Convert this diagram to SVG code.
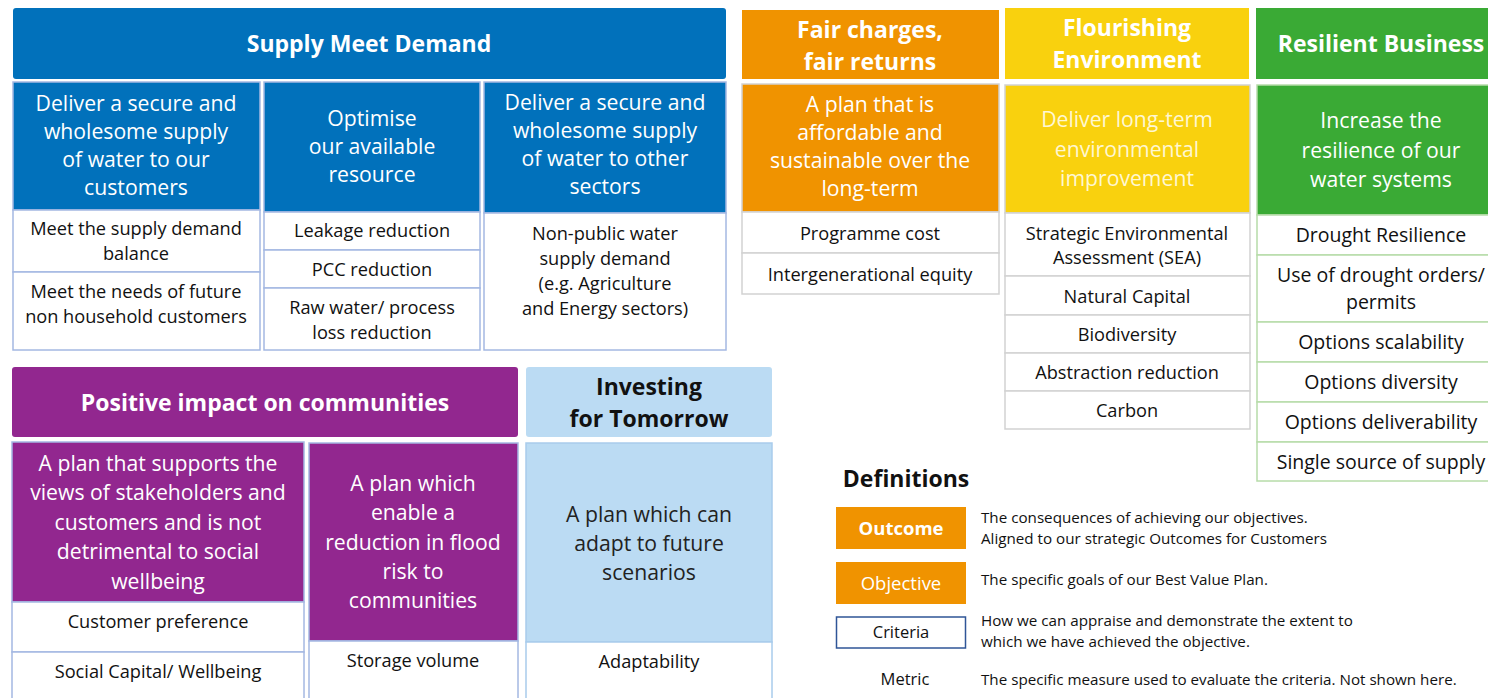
<svg xmlns="http://www.w3.org/2000/svg" width="1488" height="698" viewBox="0 0 1488 698">
<style>
text{font-family:"Open Sans","Noto Sans",sans-serif;text-anchor:middle}
.h{font-weight:bold;font-size:23px;fill:#fff}
.hd{font-weight:bold;font-size:23px;fill:#111}
.o{font-size:21.2px;fill:#fff}
.oy{font-size:21.2px;fill:#FFF7D2}
.od{font-size:21.2px;fill:#222}
.c{font-size:18.2px;fill:#111}
.cr{font-size:19.5px;fill:#111}
.d{font-size:15.2px;fill:#111;text-anchor:start}
.cb{fill:#fff;stroke:#A4B8E2;stroke-width:1.5}
.cg{fill:#fff;stroke:#D2D2D2;stroke-width:1.5}
.cgr{fill:#fff;stroke:#B7DCA9;stroke-width:1.5}
.cl{fill:#fff;stroke:#A9CCEC;stroke-width:1.5}
</style>
<g id="supply-meet-demand">
<rect x="13" y="8" width="713" height="71" rx="3" fill="#0171BB"/>
<text class="h" x="369" y="52">Supply Meet Demand</text>
<rect x="13" y="82" width="247" height="128" fill="#0171BB" stroke="#A4B8E2" stroke-width="1.5"/>
<text class="o" x="136" y="111">Deliver a secure and</text>
<text class="o" x="136" y="139">wholesome supply</text>
<text class="o" x="136" y="167">of water to our</text>
<text class="o" x="136" y="195">customers</text>
<rect class="cb" x="13" y="210" width="247" height="62"/>
<text class="c" x="136" y="235">Meet the supply demand</text>
<text class="c" x="136" y="260">balance</text>
<rect class="cb" x="13" y="272" width="247" height="78"/>
<text class="c" x="136" y="298">Meet the needs of future</text>
<text class="c" x="136" y="323">non household customers</text>
<rect x="264" y="82" width="216" height="130" fill="#0171BB" stroke="#A4B8E2" stroke-width="1.5"/>
<text class="o" x="372" y="126">Optimise</text>
<text class="o" x="372" y="154">our available</text>
<text class="o" x="372" y="182">resource</text>
<rect class="cb" x="264" y="212" width="216" height="38"/>
<text class="c" x="372" y="237">Leakage reduction</text>
<rect class="cb" x="264" y="250" width="216" height="38"/>
<text class="c" x="372" y="276">PCC reduction</text>
<rect class="cb" x="264" y="288" width="216" height="62"/>
<text class="c" x="372" y="314">Raw water/ process</text>
<text class="c" x="372" y="339">loss reduction</text>
<rect x="484" y="82" width="242" height="131" fill="#0171BB" stroke="#A4B8E2" stroke-width="1.5"/>
<text class="o" x="605" y="110">Deliver a secure and</text>
<text class="o" x="605" y="138">wholesome supply</text>
<text class="o" x="605" y="166">of water to other</text>
<text class="o" x="605" y="194">sectors</text>
<rect class="cb" x="484" y="213" width="242" height="137"/>
<text class="c" x="605" y="240">Non-public water</text>
<text class="c" x="605" y="265">supply demand</text>
<text class="c" x="605" y="290">(e.g. Agriculture</text>
<text class="c" x="605" y="315">and Energy sectors)</text>
</g>
<g id="fair-charges">
<rect x="742" y="10" width="257" height="69" fill="#F09300"/>
<text class="h" x="870" y="38">Fair charges,</text>
<text class="h" x="870" y="70">fair returns</text>
<rect x="742" y="84" width="257" height="128" fill="#F09300" stroke="#D2D2D2" stroke-width="1.5"/>
<text class="o" x="870" y="112">A plan that is</text>
<text class="o" x="870" y="140">affordable and</text>
<text class="o" x="870" y="168">sustainable over the</text>
<text class="o" x="870" y="196">long-term</text>
<rect class="cg" x="742" y="212" width="257" height="41"/>
<text class="c" x="870" y="240">Programme cost</text>
<rect class="cg" x="742" y="253" width="257" height="41"/>
<text class="c" x="870" y="281">Intergenerational equity</text>
</g>
<g id="flourishing-environment">
<rect x="1005" y="8" width="244" height="71" fill="#F9D10E"/>
<text class="h" x="1127" y="36">Flourishing</text>
<text class="h" x="1127" y="68">Environment</text>
<rect x="1005" y="85" width="245" height="128" fill="#F9D10E" stroke="#D2D2D2" stroke-width="1.5"/>
<text class="oy" x="1127" y="127">Deliver long-term</text>
<text class="oy" x="1127" y="157">environmental</text>
<text class="oy" x="1127" y="186">improvement</text>
<rect class="cg" x="1005" y="213" width="245" height="63"/>
<text class="c" x="1127" y="240">Strategic Environmental</text>
<text class="c" x="1127" y="264">Assessment (SEA)</text>
<rect class="cg" x="1005" y="276" width="245" height="39"/>
<text class="c" x="1127" y="303">Natural Capital</text>
<rect class="cg" x="1005" y="315" width="245" height="38"/>
<text class="c" x="1127" y="341">Biodiversity</text>
<rect class="cg" x="1005" y="353" width="245" height="38"/>
<text class="c" x="1127" y="379">Abstraction reduction</text>
<rect class="cg" x="1005" y="391" width="245" height="38"/>
<text class="c" x="1127" y="417">Carbon</text>
</g>
<g id="resilient-business">
<rect x="1256" y="8" width="234" height="71" fill="#3AAA35"/>
<text class="h" x="1381" y="52">Resilient Business</text>
<rect x="1257" y="85" width="233" height="130" fill="#3AAA35" stroke="#B7DCA9" stroke-width="1.5"/>
<text class="o" x="1381" y="128">Increase the</text>
<text class="o" x="1381" y="158">resilience of our</text>
<text class="o" x="1381" y="187">water systems</text>
<rect class="cgr" x="1257" y="215" width="233" height="40"/>
<text class="cr" x="1381" y="242">Drought Resilience</text>
<rect class="cgr" x="1257" y="255" width="233" height="67"/>
<text class="cr" x="1381" y="282">Use of drought orders/</text>
<text class="cr" x="1381" y="309">permits</text>
<rect class="cgr" x="1257" y="322" width="233" height="40"/>
<text class="cr" x="1381" y="349">Options scalability</text>
<rect class="cgr" x="1257" y="362" width="233" height="40"/>
<text class="cr" x="1381" y="389">Options diversity</text>
<rect class="cgr" x="1257" y="402" width="233" height="40"/>
<text class="cr" x="1381" y="429">Options deliverability</text>
<rect class="cgr" x="1257" y="442" width="233" height="39"/>
<text class="cr" x="1381" y="469">Single source of supply</text>
</g>
<g id="positive-impact">
<rect x="12" y="367" width="506" height="70" rx="3" fill="#92278F"/>
<text class="h" x="265" y="411">Positive impact on communities</text>
<rect x="12" y="442" width="292" height="160" fill="#92278F" stroke="#A4B8E2" stroke-width="1.5"/>
<text class="o" x="158" y="471">A plan that supports the</text>
<text class="o" x="158" y="500">views of stakeholders and</text>
<text class="o" x="158" y="530">customers and is not</text>
<text class="o" x="158" y="559">detrimental to social</text>
<text class="o" x="158" y="589">wellbeing</text>
<rect class="cb" x="12" y="602" width="292" height="50"/>
<text class="c" x="158" y="628">Customer preference</text>
<rect class="cb" x="12" y="652" width="292" height="50"/>
<text class="c" x="158" y="678">Social Capital/ Wellbeing</text>
<rect x="309" y="443" width="209" height="198" fill="#92278F" stroke="#A4B8E2" stroke-width="1.5"/>
<text class="o" x="413" y="491">A plan which</text>
<text class="o" x="413" y="520">enable a</text>
<text class="o" x="413" y="550">reduction in flood</text>
<text class="o" x="413" y="579">risk to</text>
<text class="o" x="413" y="608">communities</text>
<rect class="cb" x="309" y="641" width="209" height="61"/>
<text class="c" x="413" y="667">Storage volume</text>
</g>
<g id="investing-tomorrow">
<rect x="526" y="367" width="246" height="70" rx="3" fill="#BBDBF3"/>
<text class="hd" x="649" y="395">Investing</text>
<text class="hd" x="649" y="427">for Tomorrow</text>
<rect x="526" y="443" width="246" height="199" fill="#BBDBF3" stroke="#A9CCEC" stroke-width="1.5"/>
<text class="od" x="649" y="522">A plan which can</text>
<text class="od" x="649" y="551">adapt to future</text>
<text class="od" x="649" y="580">scenarios</text>
<rect class="cl" x="526" y="642" width="246" height="60"/>
<text class="c" x="649" y="668">Adaptability</text>
</g>
<g id="definitions">
<text x="906" y="487" style="font-weight:bold;font-size:23px;fill:#111">Definitions</text>
<rect x="836" y="507" width="130" height="42" fill="#F09300"/>
<text x="901" y="535" style="font-weight:bold;font-size:18.5px;fill:#fff">Outcome</text>
<text class="d" x="981" y="523">The consequences of achieving our objectives.</text>
<text class="d" x="981" y="544">Aligned to our strategic Outcomes for Customers</text>
<rect x="836" y="562" width="130" height="42" fill="#F09300"/>
<text x="901" y="590" style="font-size:18.5px;fill:#fff">Objective</text>
<text class="d" x="981" y="585">The specific goals of our Best Value Plan.</text>
<rect x="836.5" y="617" width="129" height="31" fill="#fff" stroke="#2F5597" stroke-width="1.5"/>
<text x="901" y="638" style="font-size:16.5px;fill:#111">Criteria</text>
<text class="d" x="981" y="626">How we can appraise and demonstrate the extent to</text>
<text class="d" x="981" y="647">which we have achieved the objective.</text>
<text x="905" y="685" style="font-size:16.5px;fill:#111">Metric</text>
<text class="d" x="981" y="685">The specific measure used to evaluate the criteria. Not shown here.</text>
</g>
<g id="connectors"/>
</svg>
